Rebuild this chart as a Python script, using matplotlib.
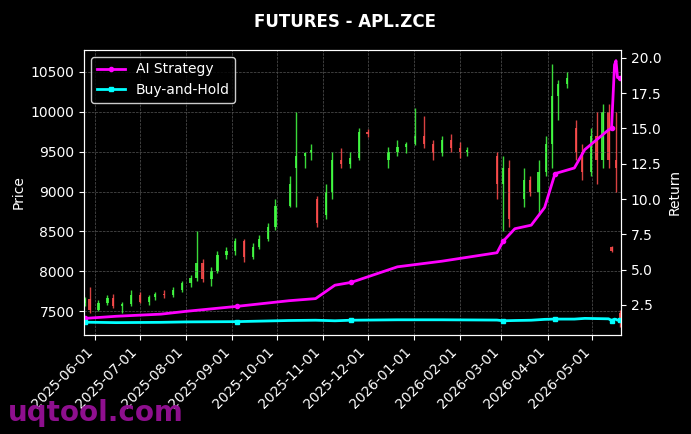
import numpy as np
import pandas as pd
import matplotlib
matplotlib.use("Agg")
import matplotlib.pyplot as plt
import matplotlib.dates as mdates

# candle data
candle_dates = ["2025-05-25", "2025-05-28", "2025-06-03", "2025-06-09", "2025-06-13", "2025-06-19",
                "2025-06-25", "2025-07-01", "2025-07-07", "2025-07-11", "2025-07-17", "2025-07-23",
                "2025-07-29", "2025-08-04", "2025-08-08", "2025-08-12", "2025-08-18", "2025-08-22",
                "2025-08-28", "2025-09-03", "2025-09-09", "2025-09-15", "2025-09-19", "2025-09-25",
                "2025-09-30", "2025-10-10", "2025-10-14", "2025-10-20", "2025-10-24", "2025-10-28",
                "2025-11-03", "2025-11-07", "2025-11-13", "2025-11-19", "2025-11-25", "2025-12-01",
                "2025-12-15", "2025-12-21", "2025-12-27", "2026-01-02", "2026-01-08", "2026-01-14",
                "2026-01-20", "2026-01-26", "2026-02-01", "2026-02-06", "2026-02-26", "2026-03-02",
                "2026-03-06", "2026-03-16", "2026-03-20", "2026-03-26", "2026-03-31", "2026-04-04",
                "2026-04-08", "2026-04-14", "2026-04-20", "2026-04-24", "2026-04-30", "2026-05-04",
                "2026-05-08", "2026-05-12", "2026-05-14", "2026-05-17", "2026-05-20"]
opens = [7600, 7650, 7520, 7600, 7660, 7560, 7590, 7700, 7620, 7680, 7720, 7700,
         7760, 7850, 7920, 8100, 7900, 8000, 8200, 8250, 8380, 8180, 8300, 8400,
         8550, 8820, 9300, 9450, 9480, 8900, 8700, 9000, 9400, 9350, 9420, 9750,
         9400, 9500, 9560, 9600, 9700, 9600, 9480, 9650, 9550, 9500, 9450, 9100,
         9300, 8900, 9150, 9000, 9250, 9600, 10200, 10350, 9800, 9500, 9250, 9700,
         9400, 10000, 8300, 9400, 7480]
highs = [7680, 7800, 7640, 7700, 7720, 7620, 7760, 7740, 7700, 7740, 7760, 7800,
         7880, 7950, 8500, 8150, 8050, 8250, 8300, 8420, 8400, 8350, 8450, 8600,
         8900, 9200, 10000, 9500, 9600, 8950, 9100, 9500, 9550, 9500, 9800, 9780,
         9560, 9650, 9620, 10050, 9950, 9650, 9700, 9720, 9620, 9560, 9500, 9450,
         9400, 9300, 9200, 9400, 9700, 10600, 10400, 10500, 9900, 9600, 9800, 10000,
         10100, 10100, 8320, 10000, 7520]
lows = [7560, 7480, 7500, 7580, 7540, 7480, 7560, 7600, 7580, 7640, 7660, 7680,
        7740, 7800, 7880, 7860, 7820, 7980, 8150, 8200, 8120, 8150, 8280, 8380,
        8520, 8800, 8800, 9300, 9400, 8550, 8650, 8900, 9300, 9300, 9400, 9680,
        9300, 9450, 9480, 9580, 9550, 9400, 9450, 9500, 9420, 9450, 8900, 8500,
        8550, 8800, 8950, 8700, 9200, 9300, 9900, 10300, 9400, 9150, 9200, 9100,
        9300, 9300, 8240, 9000, 7300]
closes = [7650, 7520, 7600, 7660, 7560, 7590, 7700, 7620, 7680, 7720, 7700, 7760,
          7850, 7920, 8100, 7900, 8000, 8200, 8250, 8380, 8180, 8300, 8400, 8550,
          8820, 9100, 9450, 9480, 9520, 8600, 9000, 9400, 9350, 9420, 9750, 9720,
          9500, 9560, 9600, 9700, 9600, 9480, 9650, 9550, 9500, 9520, 9100, 9300,
          8650, 9150, 9000, 9250, 9600, 10200, 10350, 10420, 9500, 9250, 9700, 9400,
          10000, 9400, 8260, 9300, 7420]

# cumulative returns
ret_dates = ["2025-05-25", "2025-06-15", "2025-07-15", "2025-08-01", "2025-09-04", "2025-10-09",
             "2025-10-27", "2025-11-09", "2025-11-20", "2025-12-21", "2026-01-20", "2026-02-26",
             "2026-03-02", "2026-03-10", "2026-03-21", "2026-03-30", "2026-04-06", "2026-04-19",
             "2026-04-26", "2026-05-12", "2026-05-14", "2026-05-16", "2026-05-17", "2026-05-18",
             "2026-05-20"]
ai_ret = [1.55, 1.7, 1.85, 2.05, 2.4, 2.8, 2.95, 3.9, 4.1, 5.2, 5.6, 6.2,
          7.0, 7.9, 8.15, 9.4, 11.8, 12.2, 13.5, 14.9, 15.0, 19.5, 19.8, 18.6, 18.6]
bh_ret = [1.28, 1.25, 1.27, 1.3, 1.32, 1.4, 1.42, 1.38, 1.42, 1.45, 1.45, 1.43,
          1.38, 1.4, 1.42, 1.48, 1.5, 1.5, 1.55, 1.52, 1.4, 1.5, 1.48, 1.42, 1.45]

cd = pd.to_datetime(candle_dates)
rd = pd.to_datetime(ret_dates)

fig = plt.figure(figsize=(6.91, 4.34), dpi=100, facecolor="black")
ax = fig.add_axes([0.122, 0.228, 0.777, 0.657], facecolor="black")
ax2 = ax.twinx()

up_c, dn_c = "#44ff44", "#ff4d4d"
for d, o, h, l, c in zip(cd, opens, highs, lows, closes):
    col = up_c if c >= o else dn_c
    ax.vlines(d, l, h, color=col, lw=1, alpha=0.85)
    ax.bar(d, abs(c - o) or 20, bottom=min(o, c), width=1.6, color=col, alpha=0.85)

ax.set_ylim(7200, 10776)
ax.set_xlim(pd.Timestamp("2025-05-24 12:00"), pd.Timestamp("2026-05-20 12:00"))
ax.set_ylabel("Price", color="white")
ax.grid(True, color="#555555", ls="--", lw=0.5)
ax.xaxis.set_major_locator(mdates.MonthLocator())
ax.xaxis.set_major_formatter(mdates.DateFormatter("%Y-%m-%d"))
plt.setp(ax.get_xticklabels(), rotation=45, ha="right")

ax2.plot(rd, ai_ret, color="#ff00ff", lw=2, marker="o", ms=3, markevery=4, label="AI Strategy")
ax2.plot(rd, bh_ret, color="#00ffff", lw=2, marker="s", ms=3, markevery=4, label="Buy-and-Hold")
ax2.set_ylim(0.37, 20.56)
ax2.set_ylabel("Return", color="white")

for a in (ax, ax2):
    a.tick_params(colors="white")
    for s in a.spines.values():
        s.set_color("white")

leg = ax2.legend(loc="upper left", facecolor="black", edgecolor="white", labelcolor="white")
fig.suptitle("FUTURES - APL.ZCE", color="white", fontweight="bold", y=0.97)
fig.text(0.012, 0.03, "uqtool.com", color="#8e0f8e", fontsize=20, fontweight="bold")

fig.savefig("out.png", facecolor="black")
